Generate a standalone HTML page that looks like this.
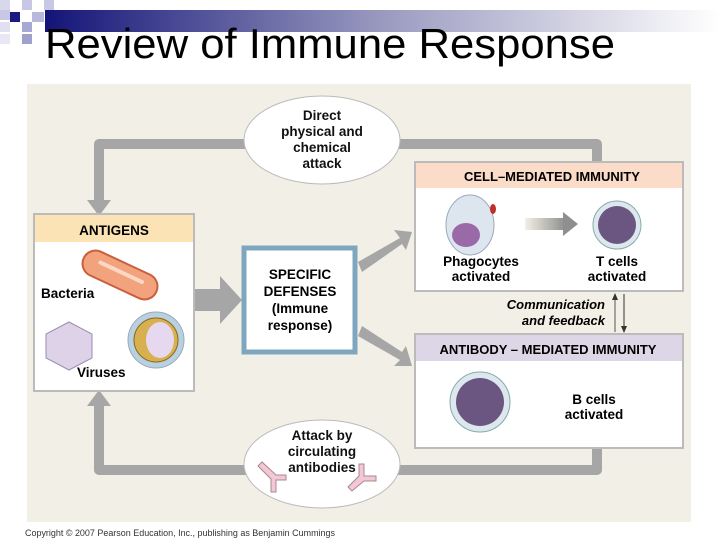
<!DOCTYPE html>
<html><head><meta charset="utf-8"><style>
body{margin:0;width:720px;height:540px;background:#fff;overflow:hidden;font-family:"Liberation Sans",sans-serif}
</style></head><body>
<svg width="720" height="540" xmlns="http://www.w3.org/2000/svg" font-family="Liberation Sans, sans-serif">
<defs>
<linearGradient id="g" x1="0" x2="1"><stop offset="0" stop-color="#141478"/><stop offset="0.5" stop-color="#9a9ac0"/><stop offset="1" stop-color="#ffffff"/></linearGradient>
<linearGradient id="ar" x1="0" x2="1"><stop offset="0" stop-color="#f2efe6"/><stop offset="1" stop-color="#8f8f8f"/></linearGradient>
</defs>
<rect x="45" y="10" width="675" height="22" fill="url(#g)"/>
<rect x="0" y="0" width="10" height="10" fill="#d8d8ec"/>
<rect x="0" y="10" width="10" height="10" fill="#c8c8e4"/>
<rect x="10" y="12" width="10" height="10" fill="#1a1a80"/>
<rect x="22" y="0" width="10" height="10" fill="#c8c8e4"/>
<rect x="32" y="12" width="12" height="10" fill="#b8b8dc"/>
<rect x="44" y="0" width="10" height="10" fill="#c8c8e4"/>
<rect x="0" y="22" width="10" height="10" fill="#e0e0f0"/>
<rect x="22" y="22" width="10" height="10" fill="#a8a8d4"/>
<rect x="0" y="34" width="10" height="10" fill="#e8e8f4"/>
<rect x="22" y="34" width="10" height="10" fill="#a0a0cc"/>
<text x="45" y="58" font-size="42" fill="#000" textLength="570" lengthAdjust="spacingAndGlyphs">Review of Immune Response</text>

<rect x="27" y="84" width="664" height="438" fill="#f2efe6"/>
<g stroke="#a6a6a6" stroke-width="10" fill="none" stroke-linejoin="round">
<path d="M250 144 H99 V202"/>
<path d="M394 144 H597 V162"/>
<path d="M250 470 H99 V404"/>
<path d="M394 470 H597 V446"/>
</g>
<polygon points="87,200 111,200 99,216" fill="#a6a6a6"/>
<polygon points="87,406 111,406 99,390" fill="#a6a6a6"/>
<ellipse cx="322" cy="140" rx="78" ry="44" fill="#fff" stroke="#bbb"/>
<ellipse cx="322" cy="464" rx="78" ry="44" fill="#fff" stroke="#bbb"/>
<g font-weight="bold" font-size="13.5" text-anchor="middle" fill="#111">
<text x="322" y="120">Direct</text><text x="322" y="136">physical and</text><text x="322" y="152">chemical</text><text x="322" y="168">attack</text>
<text x="322" y="440">Attack by</text><text x="322" y="456">circulating</text><text x="322" y="472">antibodies</text>
</g>
<g fill="#f2c8d8" stroke="#a88" stroke-width="1">
<path d="M258 466 l4 -4 l14 13 h10 v5 h-10 v12 h-5 v-13 z"/>
<path d="M352 491 l-4 -4 l11 -11 v-12 h5 v12 h12 v5 h-12 z"/>
</g>
<rect x="34" y="214" width="160" height="177" fill="#fff" stroke="#bbb" stroke-width="2"/>
<rect x="35" y="215" width="158" height="27" fill="#fbe3b6"/>
<text x="114" y="235" font-weight="bold" font-size="13.5" text-anchor="middle">ANTIGENS</text>
<text x="41" y="298" font-weight="bold" font-size="13.5">Bacteria</text>
<text x="77" y="377" font-weight="bold" font-size="13.5">Viruses</text>
<g transform="rotate(25 120 275)">
<rect x="80" y="262" width="80" height="26" rx="13" fill="#f2a27c" stroke="#c8603e" stroke-width="2"/>
<rect x="95" y="270" width="50" height="4" rx="2" fill="#fbd7c4"/>
</g>
<polygon points="69,322 92,334 92,358 69,370 46,358 46,334" fill="#ddd2e8" stroke="#9a8cb0"/>
<circle cx="156" cy="340" r="28" fill="#b8d0e0" stroke="#9ab"/>
<circle cx="156" cy="340" r="22" fill="#d8b050" stroke="#8a6a20"/>
<ellipse cx="160" cy="340" rx="14" ry="18" fill="#e6d8ee"/>
<polygon points="195,289 220,289 220,276 242,300 220,324 220,311 195,311" fill="#a6a6a6"/>
<rect x="244" y="248" width="111" height="104" fill="#fff" stroke="#7fa6bf" stroke-width="5"/>
<g font-weight="bold" font-size="13.5" text-anchor="middle"><text x="300" y="279">SPECIFIC</text><text x="300" y="296">DEFENSES</text><text x="300" y="313">(Immune</text><text x="300" y="330">response)</text></g>
<polygon points="358,262 400,238 394,230 412,232 406,250 402,244 362,272" fill="#a6a6a6"/>
<polygon points="358,336 362,326 402,352 406,346 412,366 394,366 400,360" fill="#a6a6a6"/>
<rect x="415" y="162" width="268" height="129" fill="#fff" stroke="#bbb" stroke-width="2"/>
<rect x="416" y="163" width="266" height="25" fill="#fadcc8"/>
<text x="552" y="181" font-weight="bold" font-size="13" text-anchor="middle">CELL–MEDIATED IMMUNITY</text>
<ellipse cx="470" cy="225" rx="24" ry="30" fill="#dde6ee" stroke="#9ab"/>
<ellipse cx="466" cy="235" rx="14" ry="12" fill="#9a6aa8"/>
<ellipse cx="493" cy="209" rx="3" ry="5" fill="#c0302a"/>
<rect x="525" y="218" width="40" height="12" fill="url(#ar)"/>
<polygon points="563,212 578,224 563,236" fill="#8f8f8f"/>
<circle cx="617" cy="225" r="24" fill="#dde8ee" stroke="#8aa"/>
<circle cx="617" cy="225" r="19" fill="#6a5680"/>
<g font-weight="bold" font-size="13.5" text-anchor="middle"><text x="481" y="266">Phagocytes</text><text x="481" y="281">activated</text><text x="617" y="266">T cells</text><text x="617" y="281">activated</text></g>
<line x1="615" y1="295" x2="615" y2="332" stroke="#555"/><polygon points="612,300 618,300 615,293" fill="#333"/>
<line x1="624" y1="294" x2="624" y2="330" stroke="#333"/><polygon points="621,326 627,326 624,333" fill="#333"/>
<g font-weight="bold" font-style="italic" font-size="13" text-anchor="end"><text x="605" y="309">Communication</text><text x="605" y="325">and feedback</text></g>
<rect x="415" y="334" width="268" height="114" fill="#fff" stroke="#bbb" stroke-width="2"/>
<rect x="416" y="335" width="266" height="26" fill="#ddd6e6"/>
<text x="548" y="354" font-weight="bold" font-size="13" text-anchor="middle">ANTIBODY – MEDIATED IMMUNITY</text>
<circle cx="480" cy="402" r="30" fill="#dde8ee" stroke="#8aa"/>
<circle cx="480" cy="402" r="24" fill="#6a5680"/>
<g font-weight="bold" font-size="13.5" text-anchor="middle"><text x="594" y="404">B cells</text><text x="594" y="419">activated</text></g>
<text x="25" y="536" font-size="9" fill="#333" textLength="310" lengthAdjust="spacingAndGlyphs">Copyright © 2007 Pearson Education, Inc., publishing as Benjamin Cummings</text>
</svg>
</body></html>
